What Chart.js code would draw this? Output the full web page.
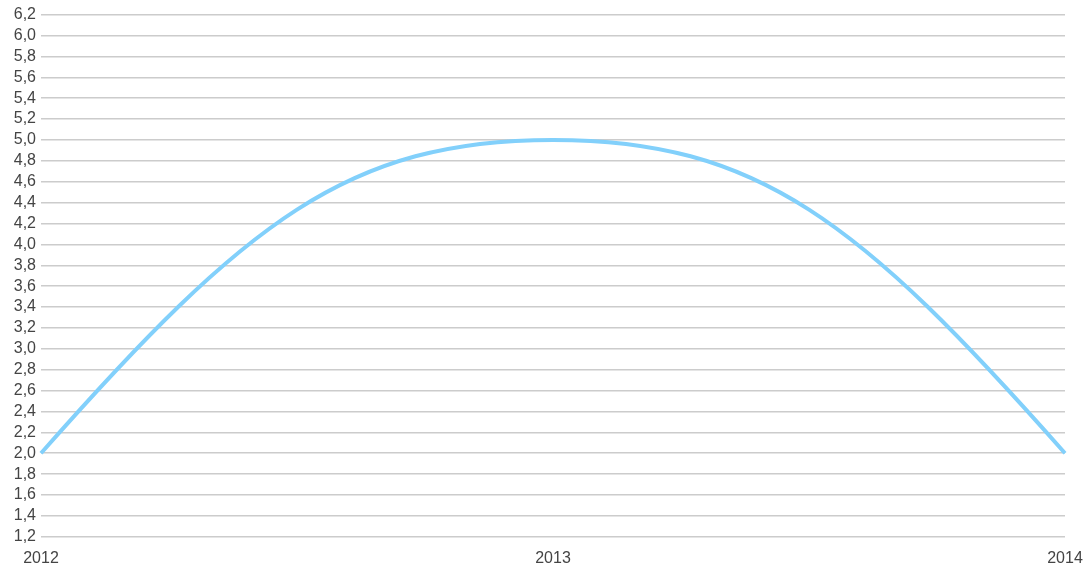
<!DOCTYPE html>
<html>
<head>
<meta charset="utf-8">
<script src="https://cdn.jsdelivr.net/npm/chart.js@4/dist/chart.umd.min.js"></script>
<style>
  html, body { margin: 0; padding: 0; background: #fff; }
  #wrap { width: 1092px; height: 572px; }
</style>
</head>
<body>
<div id="wrap"><canvas id="chart" width="1092" height="572"></canvas></div>
<script>
// datos
const years = ['2012', '2013', '2014'];
const values = [2.0, 5.0, 2.0];
const yMin = 1.2;
const yMax = 6.2;
const yStep = 0.2;

// Los extremos de la curva salen más empinados que con la tensión por defecto:
// ajustamos solo los puntos de control de los extremos
const endTangents = {
    id: 'endTangents',
    beforeDatasetsDraw(chart) {
        const meta = chart.getDatasetMeta(0);
        const line = meta.dataset;
        const pts = meta.data;
        if (!line || pts.length < 2) return;
        line.updateControlPoints(chart.chartArea, 'x');
        const t = 0.4, boost = 1.85;
        const first = pts[0], second = pts[1];
        first.cp2x = first.x + t * (second.x - first.x);
        first.cp2y = first.y + t * boost * (second.y - first.y);
        const last = pts[pts.length - 1], prev = pts[pts.length - 2];
        last.cp1x = last.x - t * (last.x - prev.x);
        last.cp1y = last.y - t * boost * (last.y - prev.y);
    }
};

const ctx = document.getElementById('chart').getContext('2d');
new Chart(ctx, {
    type: 'line',
    data: {
        labels: years,
        datasets: [{
            data: values,
            borderColor: '#82d0fb',
            borderWidth: 4,
            pointRadius: 0,
            tension: 0.4,
            fill: false
        }]
    },
    plugins: [endTangents],
    options: {
        responsive: false,
        animation: false,
        layout: { padding: { top: 9, right: 27, bottom: 0, left: 0 } },
        plugins: { legend: { display: false }, tooltip: { enabled: false } },
        scales: {
            x: {
                offset: false,
                grid: { display: false },
                border: { display: false },
                ticks: {
                    color: '#444',
                    font: { family: 'Liberation Sans, Arial', size: 16 },
                    padding: 4,
                    maxRotation: 0
                }
            },
            y: {
                min: yMin,
                max: yMax,
                afterFit: scale => { scale.width = 41; },
                grid: { color: '#cccccc', lineWidth: 1.5, drawTicks: false },
                border: { display: false },
                ticks: {
                    stepSize: yStep,
                    autoSkip: false,
                    color: '#444',
                    padding: 5,
                    font: { family: 'Liberation Sans, Arial', size: 16 },
                    callback: v => v.toFixed(1).replace('.', ',')
                }
            }
        }
    }
});
</script>
</body>
</html>
